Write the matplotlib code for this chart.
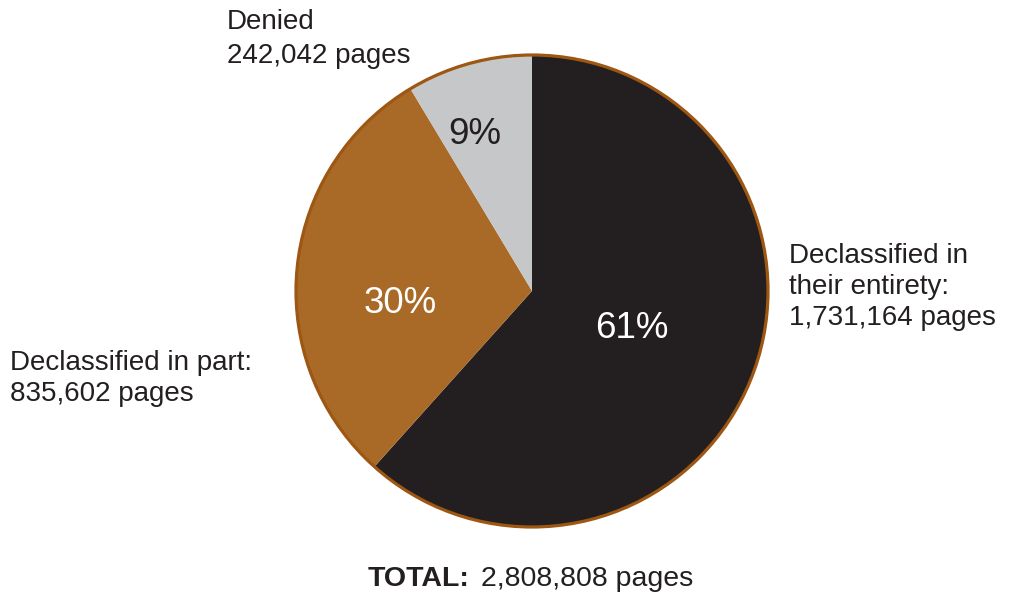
import matplotlib
matplotlib.use("Agg")
import matplotlib.pyplot as plt
from matplotlib.patches import Circle

plt.rcParams['font.family'] = ['Liberation Sans', 'DejaVu Sans']

# page counts
categories = ["Declassified in\ntheir entirety:", "Declassified in part:", "Denied"]
pages = [1731164, 835602, 242042]
pct_labels = ["61%", "30%", "9%"]
colors = ["#231f20", "#a96a27", "#c6c7c9"]
total = sum(pages)

fig = plt.figure(figsize=(10.10, 5.94), dpi=100)
ax = fig.add_axes([0, 0, 1, 1])

cx, cy, rad = 532, 303, 236
ax.pie(pages, colors=colors, startangle=90, counterclock=False,
       center=(cx, cy), radius=rad, frame=True,
       wedgeprops=dict(linewidth=0, antialiased=True))
ax.add_patch(Circle((cx, cy), rad, fill=False, edgecolor="#9e5712", linewidth=2.3))

ax.set_xlim(0, 1010)
ax.set_ylim(0, 594)
ax.axis("off")

# percent labels
pct = dict(fontsize=26.5, ha="center", va="baseline")
ax.text(632, 256, pct_labels[0], color="white", **pct)
ax.text(400, 281, pct_labels[1], color="white", **pct)
ax.text(475, 450, pct_labels[2], color="#231f20", **pct)

# category labels (va=baseline anchors the last line)
lbl = dict(fontsize=20, color="#231f20", linespacing=1.25, ha="left", va="baseline")
ax.text(789, 269, f"{categories[0]}\n{pages[0]:,} pages", **lbl)
ax.text(10, 193, f"{categories[1]}\n{pages[1]:,} pages", **lbl)
ax.text(227, 531, f"{categories[2]}\n{pages[2]:,} pages", linespacing=1.4,
        **{k: v for k, v in lbl.items() if k != "linespacing"})

ax.text(470, 8, "TOTAL:", ha="right", va="baseline", fontsize=20.5,
        fontweight="bold", color="#231f20")
ax.text(481, 8, f"{total:,} pages", ha="left", va="baseline", fontsize=20.5,
        color="#231f20")

fig.savefig("out.png", dpi=100)
